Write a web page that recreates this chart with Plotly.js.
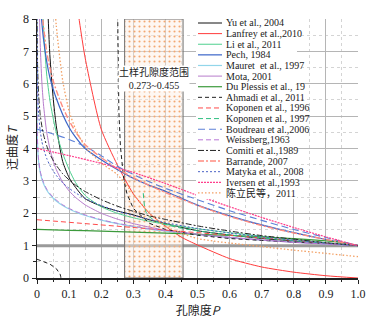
<!DOCTYPE html>
<html><head><meta charset="utf-8">
<script src="https://cdn.plot.ly/plotly-3.0.1.min.js"></script>
<style>html,body{margin:0;padding:0;background:#fff}#chart{width:375px;height:321px}</style>
</head><body><div id="chart"></div>
<script>
// ---------------- data ----------------
const porosity = [0, 0.00001, 0.0003, 0.001, 0.002, 0.005, 0.01, 0.015, 0.02, 0.03, 0.04, 0.05, 0.06, 0.08, 0.1, 0.12, 0.15, 0.2, 0.25, 0.3, 0.35, 0.4, 0.5, 0.6, 0.7, 0.8, 0.9, 1.0];
const yuT        = [null,null,null,null,null,null,null,null,11.5,9.2,6.9,5.6,4.7,3.6,3.1,2.8,2.45,2.22,2.07,1.95,1.8,1.68,1.46,1.33,1.22,1.14,1.07,1.0];
const liT        = [null,null,null,null,null,null,11.0,9.0,7.8,6.3,5.5,4.95,4.5,3.85,3.35,2.95,2.55,2.2,2.0,1.86,1.75,1.66,1.52,1.4,1.29,1.19,1.09,1.0];
const pechT      = [null,null,null,null,null,9.6,8.6,7.9,7.4,6.7,6.2,5.85,5.55,5.05,4.65,4.35,4.0,3.65,3.35,3.08,2.86,2.68,2.25,1.92,1.64,1.4,1.19,1.0];
const mauretT    = [null,6.64,4.97,4.38,4.05,3.6,3.26,3.06,2.92,2.72,2.58,2.47,2.38,2.24,2.13,2.04,1.93,1.79,1.68,1.59,1.51,1.45,1.34,1.25,1.17,1.11,1.05,1.0];
const motaT      = [null,null,null,null,14.5,9.75,7.24,6.08,5.38,4.52,4.0,3.63,3.35,2.96,2.69,2.49,2.26,2.0,1.82,1.68,1.57,1.48,1.35,1.25,1.17,1.1,1.05,1.0];
const weissbergT = [null,6.76,5.06,4.45,4.11,3.65,3.3,3.1,2.96,2.75,2.61,2.5,2.41,2.26,2.15,2.06,1.95,1.8,1.69,1.6,1.52,1.46,1.35,1.26,1.18,1.11,1.05,1.0];
const comitiT    = [null,11.13,8.14,7.08,6.47,5.66,5.05,4.7,4.44,4.09,3.83,3.64,3.48,3.22,3.03,2.87,2.67,2.42,2.22,2.06,1.92,1.81,1.61,1.45,1.31,1.2,1.09,1.0];
const barrandeT  = [null,null,null,null,null,10.2,9.0,8.3,7.8,7.0,6.5,6.1,5.8,5.28,4.86,4.52,4.12,3.72,3.38,3.1,2.86,2.64,2.24,1.9,1.62,1.39,1.19,1.0];
const matykaT    = [null,9.86,7.25,6.32,5.79,5.08,4.55,4.23,4.01,3.7,3.48,3.31,3.17,2.94,2.77,2.63,2.46,2.24,2.07,1.93,1.81,1.71,1.53,1.39,1.27,1.17,1.08,1.0];

const lanfreyP   = [0.1, 0.12, 0.15, 0.2, 0.25, 0.3, 0.35, 0.4, 0.45, 0.5, 0.6, 0.7, 0.8, 0.9, 1.0];
const lanfreyT   = [10.8, 8.8, 6.8, 4.6, 3.5, 2.6, 2.0, 1.6, 1.26, 1.02, 0.6, 0.34, 0.18, 0.07, 0.0];
const duPlessisP = [0, 0.1, 0.2, 0.3, 0.4, 0.5, 0.6, 0.7, 0.8, 0.9, 0.95, 1.0];
const duPlessisT = [1.5, 1.474, 1.447, 1.418, 1.386, 1.351, 1.313, 1.268, 1.216, 1.147, 1.099, 1.0];
const ahmadiP    = [0, 0.02, 0.04, 0.06, 0.07, 0.072, 0.074, 0.0745, 0.15, 0.25, 0.252, 0.255, 0.26, 0.27, 0.28, 0.3, 0.35, 0.4, 0.5, 0.6, 0.7, 0.8, 0.9, 1.0];
const ahmadiT    = [0.58, 0.51, 0.43, 0.29, 0.16, 0.12, 0.04, 0.0, null, 9.2, 6.67, 5.15, 4.05, 3.07, 2.61, 2.15, 1.69, 1.5, 1.32, 1.22, 1.16, 1.12, 1.07, 1.0];
const koponen96P = [0, 1.0];
const koponen96T = [1.8, 1.0];
const koponen97P = [0.331, 0.335, 0.34, 0.35, 0.37, 0.4, 0.45, 0.5, 0.6, 0.7, 0.8, 0.9, 1.0];
const koponen97T = [2.62, 2.18, 2.03, 1.89, 1.755, 1.65, 1.535, 1.455, 1.33, 1.236, 1.15, 1.072, 1.0];
const boudreauP  = [0, 0.05, 0.1, 0.15, 0.2, 0.25, 0.3, 0.35, 0.4, 0.5, 0.6, 0.7, 0.8, 0.9, 1.0];
const boudreauT  = [4.6, 4.45, 4.28, 4.06, 3.78, 3.45, 3.2, 2.97, 2.77, 2.42, 2.08, 1.78, 1.5, 1.25, 1.0];
const iversenP   = [0, 0.1, 0.2, 0.3, 0.4, 0.5, 0.6, 0.7, 0.8, 0.9, 1.0];
const iversenT   = [4.0, 3.78, 3.54, 3.26, 2.92, 2.55, 2.2, 1.87, 1.56, 1.27, 1.0];
const chenP      = [0.05, 0.06, 0.08, 0.1, 0.12, 0.15, 0.2, 0.25, 0.3, 0.35, 0.4, 0.45, 0.5, 0.55, 0.6, 0.7, 0.8, 0.9, 1.0];
const chenT      = [9.3, 7.8, 6.1, 5.15, 4.6, 4.05, 3.55, 3.2, 2.6, 2.0, 1.6, 1.38, 1.22, 1.14, 1.08, 0.97, 0.86, 0.76, 0.66];

const soilRange  = [0.273, 0.455];
const referenceLine = 1;
const xTickVals  = [0, 0.1, 0.2, 0.3, 0.4, 0.5, 0.6, 0.7, 0.8, 0.9, 1.0];
const xTickText  = ['0','0.1','0.2','0.3','0.4','0.5','0.6','0.7','0.8','0.9','1.0'];
const yTickVals  = [0, 1, 2, 3, 4, 5, 6, 7, 8];

const seriesNames = ['Yu et al., 2004','Lanfrey et al.,2010','Li et al., 2011','Pech, 1984','Mauret  et al., 1997','Mota, 2001','Du Plessis et al., 19','Ahmadi et al., 2011','Koponen et al., 1996','Koponen et al., 1997','Boudreau et al.,2006','Weissberg,1963','Comiti et al.,1989','Barrande, 2007','Matyka et al., 2008','Iversen et al.,1993','陈立民等，2011'];

// ---------------- styles ----------------
const seriesX = [porosity, lanfreyP, porosity, porosity, porosity, porosity, duPlessisP, ahmadiP, koponen96P, koponen97P, boudreauP, porosity, porosity, porosity, porosity, iversenP, chenP];
const seriesY = [yuT, lanfreyT, liT, pechT, mauretT, motaT, duPlessisT, ahmadiT, koponen96T, koponen97T, boudreauT, weissbergT, comitiT, barrandeT, matykaT, iversenT, chenT];
const colors = ['#111111','#ff3b3b','#4fd08f','#3a64c8','#92d6ea','#b77ccc','#3c9a3c','#222222','#ff4a4a','#2fbf80','#5c80d8','#b877d6','#222222','#ff8c80','#4a62c6','#ff3f8c','#f3a064'];
const dashes = ['solid','solid','solid','solid','solid','solid','solid','4px,3px','5px,3px','5px,3px','7px,4px','5px,3px','6px,2px,2px,2px','6px,2px,2px,2px','2px,2px','2px,1px','1.5px,2px'];
const widths = [1,1,1,1.2,1.2,1,1.2,1,1,1,1.1,1,1,1.4,1,1.2,1.3];

const L = 37, R = 358, TOP = 19, B = 278;
const px2x = p => (p - L) / (R - L);
const py2y = p => (B - p) / (B - TOP);

const traces = [];
// soil porosity band (dotted pattern)
traces.push({
  x: [soilRange[0], soilRange[1], soilRange[1], soilRange[0], soilRange[0]],
  y: [0, 0, 8, 8, 0],
  mode: 'lines', fill: 'toself', showlegend: false, hoverinfo: 'skip',
  line: {color: '#6e6e6e', width: 1},
  fillcolor: 'rgba(0,0,0,0)',
  fillpattern: {shape: '.', fgcolor: '#f3a872', bgcolor: 'rgba(253,238,226,0.45)', size: 5, solidity: 0.14}
});
for (let i = 0; i < seriesNames.length; i++) {
  traces.push({
    x: seriesX[i], y: seriesY[i], name: seriesNames[i], mode: 'lines', showlegend: false,
    connectgaps: false,
    line: {color: colors[i], dash: dashes[i], width: widths[i], shape: (i === 7 || i === 9) ? 'linear' : 'spline', smoothing: 0.6}
  });
}

const shapes = [
  {type: 'line', xref: 'x', yref: 'y', x0: 0, x1: 1, y0: referenceLine, y1: referenceLine, line: {color: '#9a9a9a', width: 3}, layer: 'between'}
];
const annotations = [
  {x: (soilRange[0] + soilRange[1]) / 2, y: 6.16, xref: 'x', yref: 'y', showarrow: false,
   text: '土样孔隙度范围<br>' + soilRange[0].toFixed(3) + '~' + soilRange[1].toFixed(3),
   font: {family: 'Liberation Serif, Noto Sans CJK SC', size: 10, color: '#222'}, bgcolor: '#ffffff', borderpad: 0}
];
// manual compact legend
shapes.push({type: 'rect', xref: 'paper', yref: 'paper', x0: px2x(196), x1: px2x(297), y0: py2y(199), y1: py2y(16), fillcolor: '#ffffff', line: {width: 0}, layer: 'above'});
for (let i = 0; i < seriesNames.length; i++) {
  const yp = 23 + i * 10.62;
  shapes.push({type: 'line', xref: 'paper', yref: 'paper', x0: px2x(198), x1: px2x(222), y0: py2y(yp), y1: py2y(yp),
    line: {color: colors[i], dash: dashes[i], width: widths[i]}, layer: 'above'});
  annotations.push({x: px2x(224), y: py2y(yp), xref: 'paper', yref: 'paper', xanchor: 'left', yanchor: 'middle', showarrow: false,
    text: seriesNames[i], font: {family: 'Liberation Serif, Noto Sans CJK SC', size: 10, color: '#222'}});
}

const axisCommon = {
  showline: true, linecolor: '#222', linewidth: 1.5, zeroline: false,
  ticks: 'outside', ticklen: 4, tickcolor: '#222', tickwidth: 1,
  showgrid: true, gridcolor: '#b5b5b5', gridwidth: 1,
  tickfont: {family: 'Liberation Serif', size: 12, color: '#222'}
};
const layout = {
  width: 375, height: 321,
  margin: {l: L, r: 375 - R, t: TOP, b: 321 - B},
  paper_bgcolor: '#ffffff', plot_bgcolor: '#ffffff',
  showlegend: false,
  xaxis: Object.assign({}, axisCommon, {
    range: [0, 1], tickvals: xTickVals, ticktext: xTickText,
    minor: {dtick: 0.05, showgrid: true, gridcolor: '#d4d4d4', griddash: 'dot', ticks: 'outside', ticklen: 2.5, tickcolor: '#222'},
    title: {text: '孔隙度<i>P</i>', font: {family: 'Noto Sans CJK SC, Liberation Serif', size: 12, color: '#222'}, standoff: 2}
  }),
  yaxis: Object.assign({}, axisCommon, {
    range: [0, 8], tickvals: yTickVals,
    minor: {dtick: 0.5, showgrid: true, gridcolor: '#d4d4d4', griddash: 'dot', ticks: 'outside', ticklen: 2.5, tickcolor: '#222'},
    title: {text: '迂曲度<i>T</i>', font: {family: 'Noto Sans CJK SC, Liberation Serif', size: 12, color: '#222'}, standoff: 3}
  }),
  shapes: shapes, annotations: annotations
};
Plotly.newPlot('chart', traces, layout, {displayModeBar: false, staticPlot: true});
</script></body></html>
